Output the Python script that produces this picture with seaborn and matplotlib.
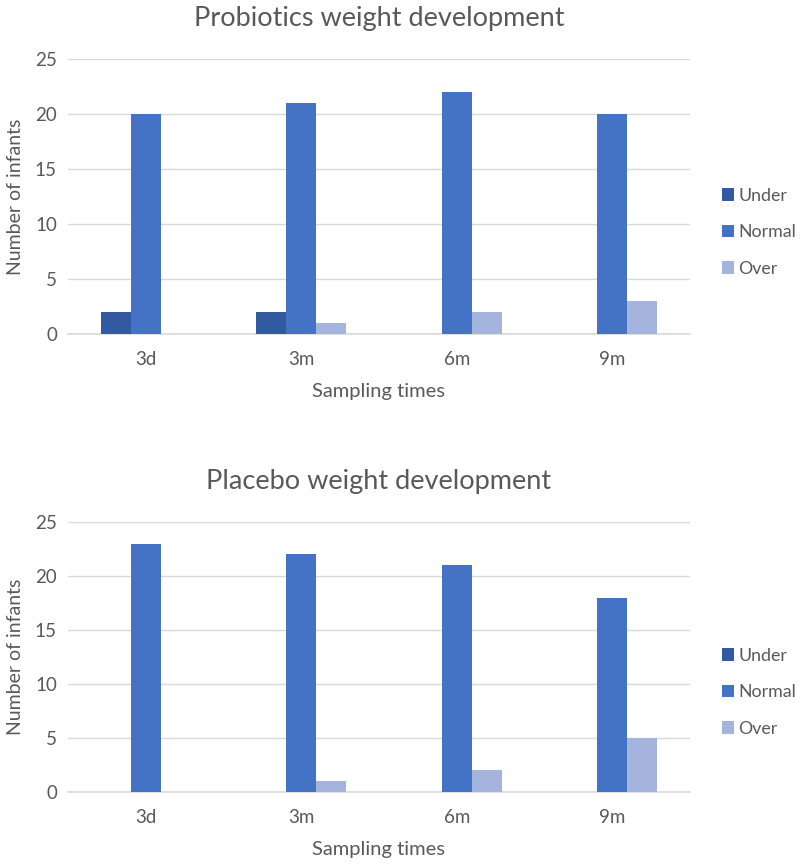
import pandas as pd
import matplotlib
matplotlib.use("Agg")
import matplotlib.pyplot as plt
import seaborn as sns

# data
times = ["3d", "3m", "6m", "9m"]
groups = ["Under", "Normal", "Over"]

probiotics_under = [2, 2, 0, 0]
probiotics_normal = [20, 21, 22, 20]
probiotics_over = [0, 1, 2, 3]

placebo_under = [0, 0, 0, 0]
placebo_normal = [23, 22, 21, 18]
placebo_over = [0, 1, 2, 5]

colors = ["#335AA1", "#4472C4", "#A5B4DC"]
text_col = "#595959"
grid_col = "#D9D9D9"

sns.set_style("white")
plt.rcParams['font.family'] = ['Lato', 'DejaVu Sans']


def long_form(under, normal, over):
    rows = []
    for g, vals in zip(groups, [under, normal, over]):
        for t, v in zip(times, vals):
            rows.append({"time": t, "group": g, "count": v})
    return pd.DataFrame(rows)


fig = plt.figure(figsize=(8, 8.64), dpi=100)
ax1 = fig.add_axes([0.085, 0.6134, 0.7775, 0.3183])
ax2 = fig.add_axes([0.085, 0.0833, 0.7775, 0.3125])

panels = [
    (ax1, long_form(probiotics_under, probiotics_normal, probiotics_over), "Probiotics weight development"),
    (ax2, long_form(placebo_under, placebo_normal, placebo_over), "Placebo weight development"),
]

for ax, df, title in panels:
    sns.barplot(data=df, x="time", y="count", hue="group", order=times,
                hue_order=groups, palette=colors, width=0.58, gap=0,
                saturation=1, linewidth=0, ax=ax, zorder=3)
    ax.set_ylim(0, 25)
    ax.set_xlim(-0.5, 3.5)
    ax.set_yticks([0, 5, 10, 15, 20, 25])
    ax.yaxis.grid(True, color=grid_col, linewidth=1, zorder=0)
    ax.set_axisbelow(True)
    for s in ["top", "right", "left"]:
        ax.spines[s].set_visible(False)
    ax.spines["bottom"].set_color(grid_col)
    ax.spines["bottom"].set_linewidth(1.2)
    ax.tick_params(axis="y", length=0, labelsize=13.5, colors=text_col, pad=8)
    ax.tick_params(axis="x", length=0, labelsize=13.5, colors=text_col, pad=12)
    ax.set_xlabel("Sampling times", fontsize=14.5, color=text_col, labelpad=11)
    ax.set_ylabel("Number of infants", fontsize=14, color=text_col, labelpad=8)
    ax.set_title(title, fontsize=19.5, color=text_col, pad=24)
    # legend sits right of the plot, a bit below the middle
    ax.legend(loc="center left", bbox_to_anchor=(1.051, 0.37), frameon=False,
              fontsize=12.8, labelcolor=text_col, handlelength=0.7,
              handleheight=0.7, labelspacing=1.15, handletextpad=0.25,
              borderpad=0, borderaxespad=0)

fig.savefig("out.png", dpi=100)
